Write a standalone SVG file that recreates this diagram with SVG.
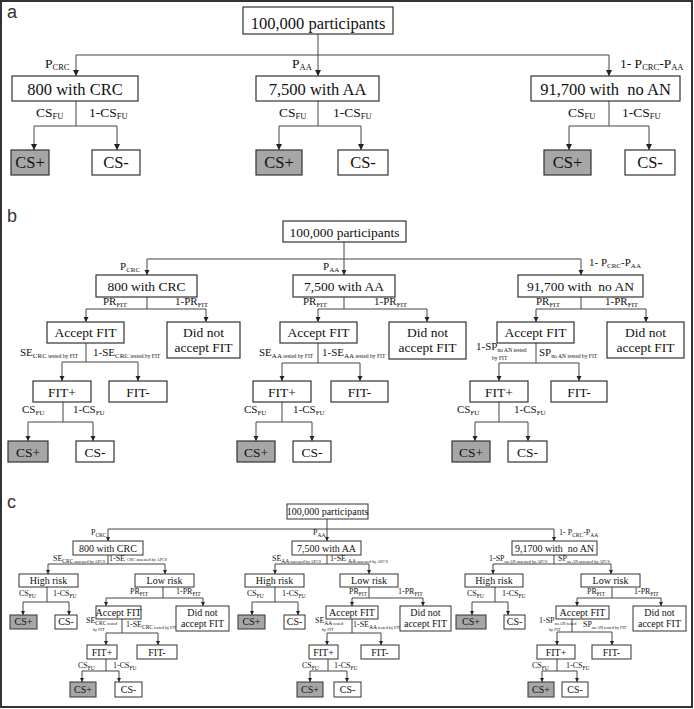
<svg xmlns="http://www.w3.org/2000/svg" width="694" height="709" viewBox="0 0 694 709">
<style>
.bg{fill:#fff}
.frame{fill:none;stroke:#333;stroke-width:2}
.box{fill:#fff;stroke:#333;stroke-width:1.2}
.bc{fill:#fff;stroke:#333;stroke-width:1}
.pos{fill:#a6a6a6}
.con{fill:none;stroke:#444;stroke-width:1}
.pl{font-family:"Liberation Sans",Arial,sans-serif;font-size:18px;fill:#333}
.ta,.tb,.tc{font-family:"Liberation Serif","Times New Roman",serif;text-anchor:middle;fill:#111;white-space:pre}
.ta{font-size:16.5px}
.tb{font-size:13.5px}
.tc{font-size:10px}
.la,.lb,.lc{font-family:"Liberation Serif","Times New Roman",serif;fill:#111;white-space:pre}
.la{font-size:13.5px}
.sa{font-size:8.5px}
.lb{font-size:11px}
.sb{font-size:7px}
.xb{font-size:5.6px}
.lc{font-size:8px}
.sc{font-size:5.5px}
.xc{font-size:4.2px}
.ma{marker-end:url(#ahA)}
.mb{marker-end:url(#ahB)}
.mc{marker-end:url(#ahC)}
</style>
<defs>
<marker id="ahA" viewBox="0 0 10 10" refX="10" refY="5" markerWidth="6" markerHeight="7" markerUnits="userSpaceOnUse" orient="auto"><path d="M0,0 L10,5 L0,10 z" fill="#222"/></marker>
<marker id="ahB" viewBox="0 0 10 10" refX="10" refY="5" markerWidth="5" markerHeight="6" markerUnits="userSpaceOnUse" orient="auto"><path d="M0,0 L10,5 L0,10 z" fill="#222"/></marker>
<marker id="ahC" viewBox="0 0 10 10" refX="10" refY="5" markerWidth="4" markerHeight="5" markerUnits="userSpaceOnUse" orient="auto"><path d="M0,0 L10,5 L0,10 z" fill="#222"/></marker>
</defs>
<rect class="bg" x="0" y="0" width="694" height="709"/>
<rect class="frame" x="1" y="1" width="691" height="706"/>
<text class="pl" x="7" y="18">a</text>
<text class="pl" x="7" y="222">b</text>
<text class="pl" x="7" y="508">c</text>

<!-- ================= connectors ================= -->
<g id="connectors">
<!-- panel a -->
<path class="con ma" d="M318,34 V76"/>
<path class="con" d="M76,55 H609"/>
<path class="con ma" d="M76,55 V76"/>
<path class="con ma" d="M609,55 V76"/>
<path class="con" d="M76,101 V126 M34,126 H117"/>
<path class="con ma" d="M34,126 V150"/>
<path class="con ma" d="M117,126 V150"/>
<path class="con" d="M318,101 V126 M279,126 H361"/>
<path class="con ma" d="M279,126 V150"/>
<path class="con ma" d="M361,126 V150"/>
<path class="con" d="M609,101 V126 M569,126 H649"/>
<path class="con ma" d="M569,126 V150"/>
<path class="con ma" d="M649,126 V150"/>
<!-- panel b -->
<path class="con mb" d="M344,242 V275"/>
<path class="con" d="M147,259 H581"/>
<path class="con mb" d="M147,259 V275"/>
<path class="con mb" d="M581,259 V275"/>
<path class="con" d="M147,297 V309 M86,309 H206"/>
<path class="con mb" d="M86,309 V322"/>
<path class="con mb" d="M206,309 V322"/>
<path class="con" d="M86,343 V362 M62,362 H138"/>
<path class="con mb" d="M62,362 V381"/>
<path class="con mb" d="M138,362 V381"/>
<path class="con" d="M63,402 V422 M28,422 H93"/>
<path class="con mb" d="M28,422 V441"/>
<path class="con mb" d="M93,422 V441"/>
<path class="con" d="M344,297 V309 M318,309 H427"/>
<path class="con mb" d="M318,309 V322"/>
<path class="con mb" d="M427,309 V322"/>
<path class="con" d="M318,343 V363 M282,363 H360"/>
<path class="con mb" d="M282,363 V381"/>
<path class="con mb" d="M360,363 V381"/>
<path class="con" d="M282,402 V422 M256,422 H312"/>
<path class="con mb" d="M256,422 V441"/>
<path class="con mb" d="M312,422 V441"/>
<path class="con" d="M581,297 V309 M536,309 H646"/>
<path class="con mb" d="M536,309 V322"/>
<path class="con mb" d="M646,309 V322"/>
<path class="con" d="M536,343 V363 M499,363 H579"/>
<path class="con mb" d="M499,363 V381"/>
<path class="con mb" d="M579,363 V381"/>
<path class="con" d="M499,402 V422 M475,422 H528"/>
<path class="con mb" d="M475,422 V441"/>
<path class="con mb" d="M528,422 V441"/>
<!-- panel c -->
<path class="con mc" d="M327,519 V541"/>
<path class="con" d="M108,529 H554"/>
<path class="con mc" d="M108,529 V541"/>
<path class="con mc" d="M554,529 V541"/>
<path class="con" d="M108,555 V564 M48,564 H165"/>
<path class="con mc" d="M48,564 V574"/>
<path class="con mc" d="M165,564 V574"/>
<path class="con" d="M47,587 V602 M23,602 H69"/>
<path class="con mc" d="M23,602 V615"/>
<path class="con mc" d="M69,602 V615"/>
<path class="con" d="M163,587 V598 M106,598 H203"/>
<path class="con mc" d="M106,598 V606"/>
<path class="con mc" d="M203,598 V606"/>
<path class="con" d="M122,619 V633 M106,633 H158"/>
<path class="con mc" d="M106,633 V645"/>
<path class="con mc" d="M158,633 V645"/>
<path class="con" d="M106,659 V671 M82,671 H119"/>
<path class="con mc" d="M82,671 V682"/>
<path class="con mc" d="M119,671 V682"/>
<path class="con" d="M327,555 V564 M275,564 H369"/>
<path class="con mc" d="M275,564 V574"/>
<path class="con mc" d="M369,564 V574"/>
<path class="con" d="M275,587 V602 M252,602 H298"/>
<path class="con mc" d="M252,602 V615"/>
<path class="con mc" d="M298,602 V615"/>
<path class="con" d="M369,587 V598 M352,598 H423"/>
<path class="con mc" d="M352,598 V606"/>
<path class="con mc" d="M423,598 V606"/>
<path class="con" d="M352,619 V633 M327,633 H381"/>
<path class="con mc" d="M327,633 V645"/>
<path class="con mc" d="M381,633 V645"/>
<path class="con" d="M328,659 V671 M310,671 H347"/>
<path class="con mc" d="M310,671 V682"/>
<path class="con mc" d="M347,671 V682"/>
<path class="con" d="M554,555 V564 M493,564 H611"/>
<path class="con mc" d="M493,564 V574"/>
<path class="con mc" d="M611,564 V574"/>
<path class="con" d="M495,587 V602 M472,602 H508"/>
<path class="con mc" d="M472,602 V615"/>
<path class="con mc" d="M508,602 V615"/>
<path class="con" d="M612,587 V598 M577,598 H661"/>
<path class="con mc" d="M577,598 V606"/>
<path class="con mc" d="M661,598 V606"/>
<path class="con" d="M572,619 V632 M557,632 H612"/>
<path class="con mc" d="M557,632 V645"/>
<path class="con mc" d="M612,632 V645"/>
<path class="con" d="M557,659 V671 M542,671 H577"/>
<path class="con mc" d="M542,671 V682"/>
<path class="con mc" d="M577,671 V682"/>
</g>

<!-- ================= edge labels ================= -->
<g id="labels">
<!-- panel a -->
<text class="la" x="45" y="68">P<tspan class="sa" dy="2">CRC</tspan></text>
<text class="la" x="292" y="68">P<tspan class="sa" dy="2">AA</tspan></text>
<text class="la" x="620" y="68">1- P<tspan class="sa" dy="2">CRC</tspan><tspan dy="-2">-P</tspan><tspan class="sa" dy="2">AA</tspan></text>
<text class="la" x="36" y="117">CS<tspan class="sa" dy="2">FU</tspan></text>
<text class="la" x="89" y="117">1-CS<tspan class="sa" dy="2">FU</tspan></text>
<text class="la" x="279" y="117">CS<tspan class="sa" dy="2">FU</tspan></text>
<text class="la" x="333" y="117">1-CS<tspan class="sa" dy="2">FU</tspan></text>
<text class="la" x="568" y="117">CS<tspan class="sa" dy="2">FU</tspan></text>
<text class="la" x="622" y="117">1-CS<tspan class="sa" dy="2">FU</tspan></text>
<!-- panel b -->
<text class="lb" x="120" y="270">P<tspan class="sb" dy="2">CRC</tspan></text>
<text class="lb" x="323" y="270">P<tspan class="sb" dy="2">AA</tspan></text>
<text class="lb" x="589" y="266">1- P<tspan class="sb" dy="2">CRC</tspan><tspan dy="-2">-P</tspan><tspan class="sb" dy="2">AA</tspan></text>
<text class="lb" x="103" y="305">PR<tspan class="sb" dy="2">FIT</tspan></text>
<text class="lb" x="175" y="305">1-PR<tspan class="sb" dy="2">FIT</tspan></text>
<text class="lb" x="303" y="305">PR<tspan class="sb" dy="2">FIT</tspan></text>
<text class="lb" x="374" y="305">1-PR<tspan class="sb" dy="2">FIT</tspan></text>
<text class="lb" x="536" y="305">PR<tspan class="sb" dy="2">FIT</tspan></text>
<text class="lb" x="605" y="305">1-PR<tspan class="sb" dy="2">FIT</tspan></text>
<text class="lb" x="20" y="356">SE<tspan class="sb" dy="2">CRC</tspan><tspan class="xb"> tested by FIT</tspan></text>
<text class="lb" x="93" y="356">1-SE<tspan class="sb" dy="2">CRC</tspan><tspan class="xb"> tested by FIT</tspan></text>
<text class="lb" x="259" y="356">SE<tspan class="sb" dy="2">AA</tspan><tspan class="xb"> tested by FIT</tspan></text>
<text class="lb" x="322" y="356">1-SE<tspan class="sb" dy="2">AA</tspan><tspan class="xb"> tested by FIT</tspan></text>
<text class="lb" x="476" y="350">1-SP<tspan class="xb" dy="2">no AN tested</tspan></text>
<text class="lb" x="492" y="360"><tspan class="xb">by FIT</tspan></text>
<text class="lb" x="539" y="356">SP<tspan class="xb" dy="2">no AN tested by FIT</tspan></text>
<text class="lb" x="22" y="413">CS<tspan class="sb" dy="2">FU</tspan></text>
<text class="lb" x="73" y="413">1-CS<tspan class="sb" dy="2">FU</tspan></text>
<text class="lb" x="244" y="413">CS<tspan class="sb" dy="2">FU</tspan></text>
<text class="lb" x="293" y="413">1-CS<tspan class="sb" dy="2">FU</tspan></text>
<text class="lb" x="457" y="413">CS<tspan class="sb" dy="2">FU</tspan></text>
<text class="lb" x="514" y="413">1-CS<tspan class="sb" dy="2">FU</tspan></text>
<!-- panel c -->
<text class="lc" x="91" y="535">P<tspan class="sc" dy="1.5">CRC</tspan></text>
<text class="lc" x="313" y="535">P<tspan class="sc" dy="1.5">AA</tspan></text>
<text class="lc" x="559" y="535">1- P<tspan class="sc" dy="1.5">CRC</tspan><tspan dy="-1.5">-P</tspan><tspan class="sc" dy="1.5">AA</tspan></text>
<text class="lc" x="53" y="561">SE<tspan class="sc" dy="1.5">CRC</tspan><tspan class="xc"> assessed by APCS</tspan></text>
<text class="lc" x="109" y="561">1-SE <tspan class="xc">CRC assessed by APCS</tspan></text>
<text class="lc" x="272" y="561">SE<tspan class="sc" dy="1.5">AA</tspan><tspan class="xc"> assessed by APCS</tspan></text>
<text class="lc" x="330" y="561">1-SE <tspan class="sc" dy="1.5">AA</tspan><tspan class="xc"> assessed by APCS</tspan></text>
<text class="lc" x="489" y="561">1-SP<tspan class="xc" dy="1.5">no AN</tspan><tspan class="xc"> assessed by APCS</tspan></text>
<text class="lc" x="558" y="561">SP<tspan class="xc" dy="1.5">no AN</tspan><tspan class="xc"> assessed by APCS</tspan></text>
<text class="lc" x="19" y="596">CS<tspan class="sc" dy="1.5">FU</tspan></text>
<text class="lc" x="53" y="596">1-CS<tspan class="sc" dy="1.5">FU</tspan></text>
<text class="lc" x="247" y="596">CS<tspan class="sc" dy="1.5">FU</tspan></text>
<text class="lc" x="282" y="596">1-CS<tspan class="sc" dy="1.5">FU</tspan></text>
<text class="lc" x="467" y="596">CS<tspan class="sc" dy="1.5">FU</tspan></text>
<text class="lc" x="502" y="596">1-CS<tspan class="sc" dy="1.5">FU</tspan></text>
<text class="lc" x="130" y="594">PR<tspan class="sc" dy="1.5">FIT</tspan></text>
<text class="lc" x="176" y="594">1-PR<tspan class="sc" dy="1.5">FIT</tspan></text>
<text class="lc" x="349" y="594">PR<tspan class="sc" dy="1.5">FIT</tspan></text>
<text class="lc" x="398" y="594">1-PR<tspan class="sc" dy="1.5">FIT</tspan></text>
<text class="lc" x="587" y="594">PR<tspan class="sc" dy="1.5">FIT</tspan></text>
<text class="lc" x="634" y="594">1-PR<tspan class="sc" dy="1.5">FIT</tspan></text>
<text class="lc" x="86" y="623">SE<tspan class="sc" dy="1.5">CRC</tspan><tspan class="xc"> tested</tspan></text>
<text class="lc" x="93" y="631"><tspan class="xc">by FIT</tspan></text>
<text class="lc" x="126" y="627">1-SE<tspan class="sc" dy="1.5">CRC</tspan><tspan class="xc"> tested by FIT</tspan></text>
<text class="lc" x="315" y="623">SE<tspan class="sc" dy="1.5">AA</tspan><tspan class="xc"> tested</tspan></text>
<text class="lc" x="322" y="631"><tspan class="xc">by FIT</tspan></text>
<text class="lc" x="353" y="627">1-SE<tspan class="sc" dy="1.5">AA</tspan><tspan class="xc"> tested by FIT</tspan></text>
<text class="lc" x="539" y="623">1-SP<tspan class="xc" dy="1.5">no AN tested</tspan></text>
<text class="lc" x="549" y="631"><tspan class="xc">by FIT</tspan></text>
<text class="lc" x="583" y="627">SP<tspan class="xc" dy="1.5">no AN tested by FIT</tspan></text>
<text class="lc" x="78" y="668">CS<tspan class="sc" dy="1.5">FU</tspan></text>
<text class="lc" x="113" y="668">1-CS<tspan class="sc" dy="1.5">FU</tspan></text>
<text class="lc" x="302" y="668">CS<tspan class="sc" dy="1.5">FU</tspan></text>
<text class="lc" x="334" y="668">1-CS<tspan class="sc" dy="1.5">FU</tspan></text>
<text class="lc" x="532" y="668">CS<tspan class="sc" dy="1.5">FU</tspan></text>
<text class="lc" x="566" y="668">1-CS<tspan class="sc" dy="1.5">FU</tspan></text>
</g>

<!-- ================= panel a nodes ================= -->
<g id="a-root"><rect class="box" x="243" y="7" width="150" height="27"/><text class="ta" x="318" y="29">100,000 participants</text></g>
<g id="a-crc"><rect class="box" x="12" y="76" width="126" height="25"/><text class="ta" x="75" y="95">800 with CRC</text></g>
<g id="a-aa"><rect class="box" x="256" y="76" width="123" height="25"/><text class="ta" x="317.5" y="95">7,500 with AA</text></g>
<g id="a-noan"><rect class="box" x="531" y="76" width="149" height="25"/><text class="ta" x="605.5" y="95">91,700 with  no AN</text></g>
<g id="a-crc-csp"><rect class="box pos" x="11" y="150" width="38" height="25"/><text class="ta" x="30" y="168">CS+</text></g>
<g id="a-crc-csn"><rect class="box" x="92" y="150" width="48" height="25"/><text class="ta" x="116" y="168">CS-</text></g>
<g id="a-aa-csp"><rect class="box pos" x="256" y="150" width="46" height="25"/><text class="ta" x="279" y="168">CS+</text></g>
<g id="a-aa-csn"><rect class="box" x="338" y="150" width="50" height="25"/><text class="ta" x="363" y="168">CS-</text></g>
<g id="a-noan-csp"><rect class="box pos" x="544" y="150" width="47" height="25"/><text class="ta" x="567.5" y="168">CS+</text></g>
<g id="a-noan-csn"><rect class="box" x="625" y="150" width="50" height="25"/><text class="ta" x="650" y="168">CS-</text></g>

<!-- ================= panel b nodes ================= -->
<g id="b-root"><rect class="box" x="283" y="221" width="123" height="21"/><text class="tb" x="344.5" y="237">100,000 participants</text></g>
<g id="b-crc"><rect class="box" x="96" y="275" width="101" height="22"/><text class="tb" x="146.5" y="291">800 with CRC</text></g>
<g id="b-aa"><rect class="box" x="293" y="275" width="102" height="22"/><text class="tb" x="344" y="291">7,500 with AA</text></g>
<g id="b-noan"><rect class="box" x="518" y="275" width="125" height="22"/><text class="tb" x="580.5" y="291">91,700 with  no AN</text></g>
<g id="b-crc-accept"><rect class="box" x="47" y="322" width="77" height="21"/><text class="tb" x="85.5" y="337">Accept FIT</text></g>
<g id="b-crc-decline"><rect class="box" x="167" y="322" width="73" height="36"/><text class="tb" x="203.5" y="337">Did not</text><text class="tb" x="203.5" y="352">accept FIT</text></g>
<g id="b-crc-fitp"><rect class="box" x="33" y="381" width="58" height="21"/><text class="tb" x="62" y="397">FIT+</text></g>
<g id="b-crc-fitn"><rect class="box" x="109" y="381" width="58" height="21"/><text class="tb" x="138" y="397">FIT-</text></g>
<g id="b-crc-csp"><rect class="box pos" x="8" y="441" width="40" height="21"/><text class="tb" x="28" y="457">CS+</text></g>
<g id="b-crc-csn"><rect class="box" x="76" y="441" width="38" height="21"/><text class="tb" x="95" y="457">CS-</text></g>
<g id="b-aa-accept"><rect class="box" x="280" y="322" width="77" height="21"/><text class="tb" x="318.5" y="337">Accept FIT</text></g>
<g id="b-aa-decline"><rect class="box" x="389" y="322" width="77" height="37"/><text class="tb" x="427.5" y="337">Did not</text><text class="tb" x="427.5" y="352">accept FIT</text></g>
<g id="b-aa-fitp"><rect class="box" x="253" y="381" width="58" height="21"/><text class="tb" x="282" y="397">FIT+</text></g>
<g id="b-aa-fitn"><rect class="box" x="331" y="381" width="57" height="21"/><text class="tb" x="359.5" y="397">FIT-</text></g>
<g id="b-aa-csp"><rect class="box pos" x="237" y="441" width="38" height="21"/><text class="tb" x="256" y="457">CS+</text></g>
<g id="b-aa-csn"><rect class="box" x="293" y="441" width="38" height="21"/><text class="tb" x="312" y="457">CS-</text></g>
<g id="b-noan-accept"><rect class="box" x="497" y="322" width="77" height="21"/><text class="tb" x="535.5" y="337">Accept FIT</text></g>
<g id="b-noan-decline"><rect class="box" x="607" y="322" width="77" height="36"/><text class="tb" x="645.5" y="337">Did not</text><text class="tb" x="645.5" y="352">accept FIT</text></g>
<g id="b-noan-fitp"><rect class="box" x="470" y="381" width="58" height="21"/><text class="tb" x="499" y="397">FIT+</text></g>
<g id="b-noan-fitn"><rect class="box" x="551" y="381" width="56" height="21"/><text class="tb" x="579" y="397">FIT-</text></g>
<g id="b-noan-csp"><rect class="box pos" x="452" y="441" width="38" height="21"/><text class="tb" x="471" y="457">CS+</text></g>
<g id="b-noan-csn"><rect class="box" x="508" y="441" width="39" height="21"/><text class="tb" x="527.5" y="457">CS-</text></g>

<!-- ================= panel c nodes ================= -->
<g id="c-root"><rect class="bc" x="287" y="504" width="81" height="15"/><text class="tc" x="327.5" y="515">100,000 participants</text></g>
<g id="c-crc"><rect class="bc" x="73" y="541" width="70" height="14"/><text class="tc" x="108" y="552">800 with CRC</text></g>
<g id="c-aa"><rect class="bc" x="292" y="541" width="69" height="14"/><text class="tc" x="326.5" y="552">7,500 with AA</text></g>
<g id="c-noan"><rect class="bc" x="512" y="541" width="85" height="14"/><text class="tc" x="554.5" y="552">9,1700 with  no AN</text></g>
<g id="c-crc-high"><rect class="bc" x="19" y="574" width="59" height="13"/><text class="tc" x="48.5" y="584">High risk</text></g>
<g id="c-crc-low"><rect class="bc" x="135" y="574" width="59" height="13"/><text class="tc" x="164.5" y="584">Low risk</text></g>
<g id="c-crc-high-csp"><rect class="bc pos" x="10" y="615" width="27" height="14"/><text class="tc" x="23.5" y="625">CS+</text></g>
<g id="c-crc-high-csn"><rect class="bc" x="55" y="615" width="22" height="14"/><text class="tc" x="66" y="625">CS-</text></g>
<g id="c-crc-accept"><rect class="bc" x="96" y="606" width="45" height="13"/><text class="tc" x="118.5" y="616">Accept FIT</text></g>
<g id="c-crc-decline"><rect class="bc" x="176" y="606" width="53" height="25"/><text class="tc" x="202.5" y="616">Did not</text><text class="tc" x="202.5" y="627">accept FIT</text></g>
<g id="c-crc-fitp"><rect class="bc" x="87" y="645" width="30" height="14"/><text class="tc" x="102" y="656">FIT+</text></g>
<g id="c-crc-fitn"><rect class="bc" x="137" y="645" width="40" height="14"/><text class="tc" x="157" y="656">FIT-</text></g>
<g id="c-crc-csp"><rect class="bc pos" x="70" y="682" width="26" height="15"/><text class="tc" x="83" y="693">CS+</text></g>
<g id="c-crc-csn"><rect class="bc" x="115" y="682" width="27" height="15"/><text class="tc" x="128.5" y="693">CS-</text></g>
<g id="c-aa-high"><rect class="bc" x="245" y="574" width="59" height="13"/><text class="tc" x="274.5" y="584">High risk</text></g>
<g id="c-aa-low"><rect class="bc" x="340" y="574" width="58" height="13"/><text class="tc" x="369" y="584">Low risk</text></g>
<g id="c-aa-high-csp"><rect class="bc pos" x="238" y="615" width="27" height="14"/><text class="tc" x="251.5" y="625">CS+</text></g>
<g id="c-aa-high-csn"><rect class="bc" x="284" y="615" width="21" height="14"/><text class="tc" x="294.5" y="625">CS-</text></g>
<g id="c-aa-accept"><rect class="bc" x="326" y="606" width="52" height="13"/><text class="tc" x="352" y="616">Accept FIT</text></g>
<g id="c-aa-decline"><rect class="bc" x="400" y="606" width="51" height="25"/><text class="tc" x="425.5" y="616">Did not</text><text class="tc" x="425.5" y="627">accept FIT</text></g>
<g id="c-aa-fitp"><rect class="bc" x="309" y="645" width="29" height="14"/><text class="tc" x="323.5" y="656">FIT+</text></g>
<g id="c-aa-fitn"><rect class="bc" x="361" y="645" width="38" height="14"/><text class="tc" x="380" y="656">FIT-</text></g>
<g id="c-aa-csp"><rect class="bc pos" x="297" y="682" width="26" height="15"/><text class="tc" x="310" y="693">CS+</text></g>
<g id="c-aa-csn"><rect class="bc" x="334" y="682" width="27" height="15"/><text class="tc" x="347.5" y="693">CS-</text></g>
<g id="c-noan-high"><rect class="bc" x="465" y="574" width="58" height="13"/><text class="tc" x="494" y="584">High risk</text></g>
<g id="c-noan-low"><rect class="bc" x="581" y="574" width="59" height="13"/><text class="tc" x="610.5" y="584">Low risk</text></g>
<g id="c-noan-high-csp"><rect class="bc pos" x="456" y="615" width="30" height="14"/><text class="tc" x="471" y="625">CS+</text></g>
<g id="c-noan-high-csn"><rect class="bc" x="504" y="615" width="21" height="14"/><text class="tc" x="514.5" y="625">CS-</text></g>
<g id="c-noan-accept"><rect class="bc" x="556" y="606" width="53" height="13"/><text class="tc" x="582.5" y="616">Accept FIT</text></g>
<g id="c-noan-decline"><rect class="bc" x="633" y="606" width="53" height="25"/><text class="tc" x="659.5" y="616">Did not</text><text class="tc" x="659.5" y="627">accept FIT</text></g>
<g id="c-noan-fitp"><rect class="bc" x="537" y="645" width="38" height="14"/><text class="tc" x="556" y="656">FIT+</text></g>
<g id="c-noan-fitn"><rect class="bc" x="592" y="645" width="39" height="14"/><text class="tc" x="611.5" y="656">FIT-</text></g>
<g id="c-noan-csp"><rect class="bc pos" x="528" y="682" width="26" height="15"/><text class="tc" x="541" y="693">CS+</text></g>
<g id="c-noan-csn"><rect class="bc" x="562" y="682" width="26" height="15"/><text class="tc" x="575" y="693">CS-</text></g>
</svg>
